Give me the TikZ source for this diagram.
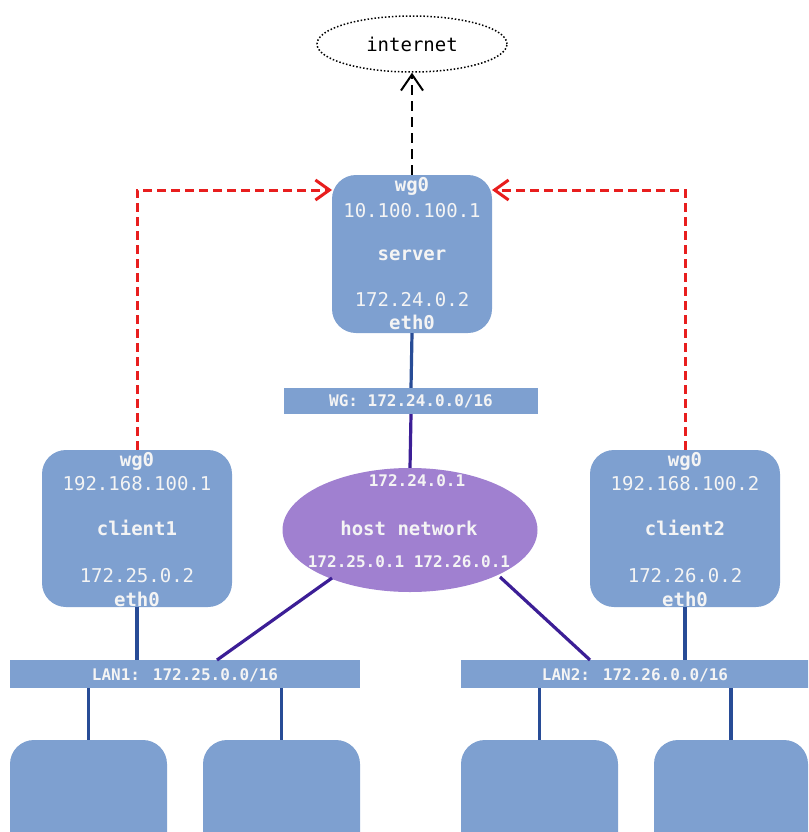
\documentclass[tikz,border=0pt]{standalone}
\usepackage{fontspec}
\setmainfont{DejaVu Sans Mono}
\usetikzlibrary{arrows.meta,shapes.geometric}
\definecolor{boxblue}{RGB}{126,160,208}
\definecolor{hostpurple}{RGB}{160,128,208}
\definecolor{wireblue}{RGB}{40,76,150}
\definecolor{wirepurple}{RGB}{60,30,150}
\definecolor{tunnelred}{RGB}{232,30,30}
\definecolor{txt}{RGB}{244,244,244}
\tikzset{
  hostbox/.style={draw=none,fill=boxblue,rounded corners=24pt,inner sep=0pt},
  netbar/.style={draw=none,fill=boxblue,inner sep=0pt},
  lbl/.style={text=txt,inner sep=0pt,font=\fontsize{19}{22}\selectfont},
  lblb/.style={lbl,font=\fontsize{19}{22}\selectfont\bfseries},
  small/.style={text=txt,inner sep=0pt,font=\fontsize{16}{19}\selectfont\bfseries},
  bluewire/.style={draw=wireblue,line width=3.2pt},
  purplewire/.style={draw=wirepurple,line width=3.2pt},
  tunnel/.style={draw=tunnelred,line width=3pt,dash pattern=on 9pt off 5pt,
    -{Straight Barb[length=14pt,width=20pt,line width=3pt]}},
  uplink/.style={draw=black,line width=2pt,dash pattern=on 10pt off 6pt,
    -{Straight Barb[length=16pt,width=22pt,line width=2pt]}}
}
\begin{document}
\begin{tikzpicture}[x=1pt,y=-1pt]
\useasboundingbox (0,0) rectangle (808,832);
\clip (0,0) rectangle (808,832);

% internet cloud
\node[draw=black,dotted,line width=1.5pt,ellipse,minimum width=190pt,minimum height=56pt,inner sep=0pt]
  (inet) at (412,44) {};
\node[inner sep=0pt,font=\fontsize{19}{22}\selectfont] (inettxt) at (412,44) {internet};

% server
\node[hostbox,minimum width=160pt,minimum height=158pt] (server) at (412,254) {};
\node[lblb] (swg) at (412,186) {wg0};
\node[lbl]  (sip1) at (412,211) {10.100.100.1};
\node[lblb] (sname) at (412,255) {server};
\node[lbl]  (sip2) at (412,300) {172.24.0.2};
\node[lblb] (seth) at (412,322) {eth0};

% WG bar
\node[netbar,minimum width=254pt,minimum height=26pt] (wgbar) at (411,401) {};
\node[small] (wgtxt) at (411,401) {WG: 172.24.0.0/16};

% host network
\node[ellipse,fill=hostpurple,minimum width=255pt,minimum height=124pt,inner sep=0pt]
  (host) at (410,530) {};
\node[small] (hip1) at (417,481) {172.24.0.1};
\node[lblb] (hname) at (409,528) {host network};
\node[small] (hip2) at (409,562) {172.25.0.1 172.26.0.1};

% client1
\node[hostbox,minimum width=190pt,minimum height=157pt] (c1) at (137,528.5) {};
\node[lblb] (c1wg) at (137,461) {wg0};
\node[lbl]  (c1ip1) at (137,484) {192.168.100.1};
\node[lblb] (c1name) at (137,528) {client1};
\node[lbl]  (c1ip2) at (137,576) {172.25.0.2};
\node[lblb] (c1eth) at (137,599) {eth0};

% client2
\node[hostbox,minimum width=190pt,minimum height=157pt] (c2) at (685,528.5) {};
\node[lblb] (c2wg) at (685,461) {wg0};
\node[lbl]  (c2ip1) at (685,484) {192.168.100.2};
\node[lblb] (c2name) at (685,528) {client2};
\node[lbl]  (c2ip2) at (685,576) {172.26.0.2};
\node[lblb] (c2eth) at (685,599) {eth0};

% LAN bars
\node[netbar,minimum width=350pt,minimum height=28pt] (lan1) at (185,674) {};
\node[small] (lan1txt) at (185,675) {LAN1: 172.25.0.0/16};
\node[netbar,minimum width=348pt,minimum height=28pt] (lan2) at (635,674) {};
\node[small] (lan2txt) at (635,675) {LAN2: 172.26.0.0/16};

% LAN hosts (run past the bottom edge)
\node[hostbox,minimum width=157pt,minimum height=140pt] (h1) at (88.5,810) {};
\node[hostbox,minimum width=157pt,minimum height=140pt] (h2) at (281.5,810) {};
\node[hostbox,minimum width=157pt,minimum height=140pt] (h3) at (539.5,810) {};
\node[hostbox,minimum width=154pt,minimum height=140pt] (h4) at (731,810) {};

% wiring
\draw[bluewire] (server.south) -- (wgbar.north);
\draw[purplewire] (wgbar.south) -- (host.north);
\draw[bluewire] (c1.south) -- (lan1.north -| c1.south);
\draw[bluewire] (c2.south) -- (lan2.north -| c2.south);
\coordinate (hl) at (332,578);
\coordinate (hr) at (500,577);
\draw[purplewire] (hl) -- (217,660);
\draw[purplewire] (hr) -- (590,660);
\draw[bluewire] (lan1.south -| h1.north) -- (h1.north);
\draw[bluewire] (lan1.south -| h2.north) -- (h2.north);
\draw[bluewire] (lan2.south -| h3.north) -- (h3.north);
\draw[bluewire] (lan2.south -| h4.north) -- (h4.north);

% tunnels and uplink
\coordinate (sl) at (332,190);
\coordinate (sr) at (492,190);
\draw[tunnel] (c1.north) |- (sl);
\draw[tunnel] (c2.north) |- (sr);
\draw[uplink] (server.north) -- (inet.south);
\end{tikzpicture}
\end{document}
